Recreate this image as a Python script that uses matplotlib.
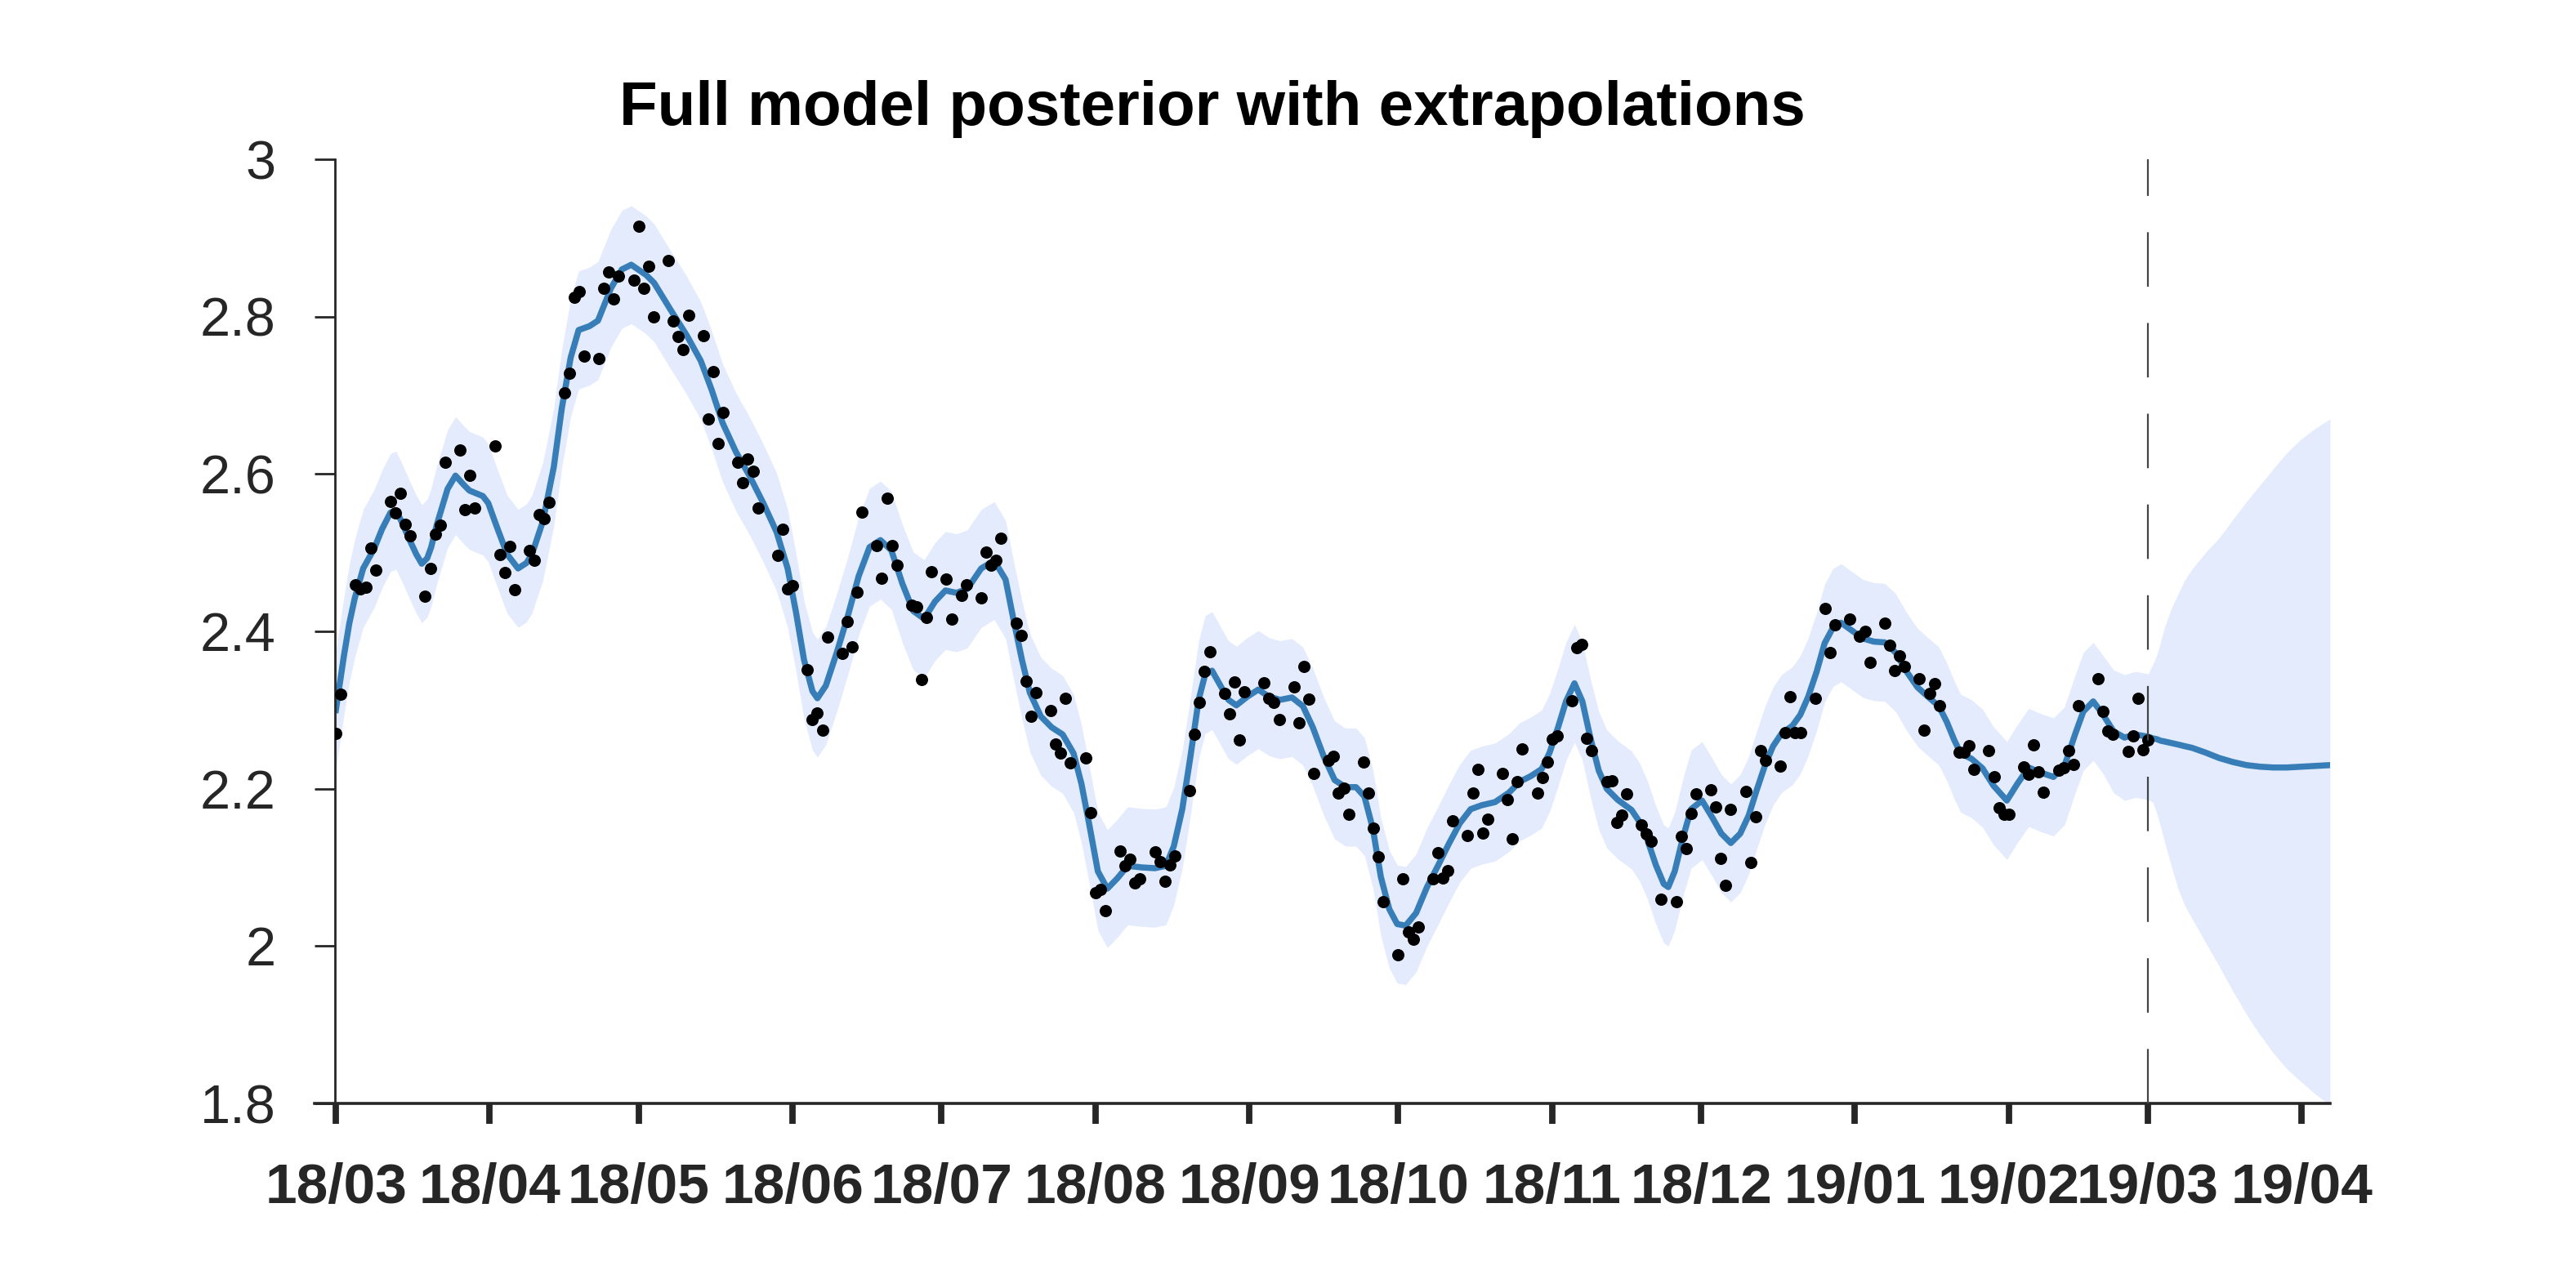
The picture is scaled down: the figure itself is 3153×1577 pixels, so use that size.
# Full model posterior with extrapolations - recreated chart
import numpy as np
import pandas as pd
import matplotlib
matplotlib.use('Agg')
import matplotlib.pyplot as plt
import matplotlib.dates as mdates
from matplotlib.ticker import FuncFormatter

plt.rcParams['font.family'] = ['Liberation Sans', 'DejaVu Sans']
plt.rcParams['lines.scale_dashes'] = False

# observation days: business days, market holidays skipped
start = pd.Timestamp('2018-03-01')
holidays = ['2018-03-30', '2018-05-28', '2018-07-04', '2018-09-03', '2018-11-22',
            '2018-12-25', '2019-01-01', '2019-01-21', '2019-02-18']
split_date = pd.Timestamp('2019-03-01')

# observed values, one row per month
obs_values = [
    2.270, 2.320, 2.459, 2.454, 2.456, 2.506, 2.478, 2.565, 2.551, 2.575, 2.536, 2.522, 2.445, 2.480, 2.524, 2.535, 2.615, 2.630, 2.555, 2.598, 2.557,
    2.636, 2.498, 2.475, 2.508, 2.453, 2.503, 2.490, 2.548, 2.543, 2.564, 2.703, 2.728, 2.825, 2.832, 2.750, 2.747, 2.836, 2.857, 2.823, 2.852, 2.846,
    2.915, 2.836, 2.864, 2.800, 2.871, 2.795, 2.775, 2.758, 2.802, 2.776, 2.670, 2.730, 2.639, 2.678, 2.615, 2.589, 2.619, 2.603, 2.557, 2.497, 2.530, 2.454,
    2.458, 2.351, 2.288, 2.296, 2.274, 2.393, 2.372, 2.413, 2.380, 2.450, 2.552, 2.509, 2.468, 2.569, 2.509, 2.484, 2.433, 2.431, 2.339, 2.418, 2.476,
    2.466, 2.416, 2.446, 2.459, 2.443, 2.501, 2.484, 2.490, 2.518, 2.410, 2.395, 2.337, 2.292, 2.322, 2.299, 2.257, 2.245, 2.315, 2.233, 2.239, 2.170,
    2.068, 2.072, 2.045, 2.121, 2.102, 2.110, 2.080, 2.086, 2.120, 2.107, 2.082, 2.103, 2.115, 2.198, 2.269, 2.310, 2.349, 2.374, 2.321, 2.295, 2.336, 2.262, 2.323,
    2.335, 2.315, 2.310, 2.288, 2.329, 2.284, 2.355, 2.314, 2.219, 2.236, 2.241, 2.194, 2.201, 2.167, 2.234, 2.194, 2.150, 2.114, 2.056,
    1.989, 2.085, 2.018, 2.009, 2.024, 2.085, 2.119, 2.087, 2.096, 2.159, 2.141, 2.194, 2.225, 2.144, 2.161, 2.219, 2.186, 2.136, 2.209, 2.251, 2.194, 2.214, 2.234,
    2.263, 2.267, 2.312, 2.379, 2.383, 2.264, 2.249, 2.209, 2.210, 2.157, 2.166, 2.193, 2.154, 2.143, 2.133, 2.060, 2.056, 2.139, 2.124, 2.169, 2.193,
    2.199, 2.177, 2.111, 2.077, 2.174, 2.197, 2.106, 2.164, 2.249, 2.236, 2.229, 2.271, 2.317, 2.271, 2.271, 2.315, 2.429, 2.373, 2.408, 2.416,
    2.394, 2.400, 2.361, 2.410, 2.382, 2.350, 2.369, 2.355, 2.340, 2.274, 2.321, 2.334, 2.306, 2.246, 2.246, 2.255, 2.225, 2.249, 2.215, 2.176, 2.167,
    2.167, 2.228, 2.218, 2.256, 2.221, 2.196, 2.224, 2.227, 2.248, 2.231, 2.306, 2.340, 2.298, 2.273, 2.269, 2.247, 2.267, 2.315, 2.250,
    2.262,
]

# posterior mean over the observed period, days after 2018-03-01
curve_day = [
    0.0, 1.6, 2.7, 3.8, 5.5, 7.7, 9.3, 11.0, 12.1, 13.2, 14.8, 16.2, 17.3, 18.4, 19.2, 20.3, 21.4, 22.5, 24.1, 25.8,
    26.9, 29.6, 30.7, 32.3, 34.5, 36.7, 38.4, 39.5, 41.7, 43.9, 45.5, 47.3, 48.9, 51.1, 52.8, 55.4, 57.6, 59.5, 62.5, 64.1,
    67.4, 70.7, 73.5, 75.7, 77.9, 80.6, 83.3, 86.1, 88.8, 91.0, 92.7, 94.3, 96.0, 97.0, 98.7, 100.9, 103.1, 105.3, 107.5, 109.7,
    111.9, 114.1, 116.3, 118.5, 120.7, 122.8, 125.0, 127.2, 130.0, 132.6, 134.9, 136.5, 138.2, 139.8, 142.0, 144.2, 146.4, 148.6, 150.2, 151.9,
    153.5, 155.4, 157.4, 159.5, 162.3, 165.0, 167.2, 168.8, 170.5, 172.1, 173.8, 175.1, 176.5, 178.2, 179.8, 181.4, 183.6, 185.8, 188.0, 190.2,
    192.6, 194.8, 196.8, 199.0, 201.2, 203.4, 205.5, 207.2, 208.9, 210.5, 212.2, 213.8, 215.5, 217.6, 219.8, 222.0, 224.2, 226.4, 228.6, 230.8,
    233.5, 236.3, 238.5, 240.7, 242.9, 244.5, 246.2, 247.8, 249.5, 251.1, 252.7, 254.4, 256.0, 258.2, 261.0, 262.6, 264.2, 265.9, 267.5, 268.4,
    269.7, 271.4, 273.0, 275.2, 277.4, 279.1, 281.0, 282.9, 284.6, 286.2, 287.9, 289.5, 291.2, 293.4, 295.0, 296.6, 298.3, 299.9, 301.6, 303.2,
    305.4, 307.6, 309.8, 312.0, 314.2, 316.4, 318.6, 320.7, 322.9, 324.5, 326.0, 327.3, 329.5, 331.7, 333.9, 336.6, 338.8, 341.0, 343.2, 346.0,
    348.2, 350.4, 352.0, 354.0, 355.9, 358.1, 360.3, 362.5, 365.1,
]
curve_mean = [
    2.300, 2.368, 2.410, 2.442, 2.480, 2.505, 2.530, 2.551, 2.554, 2.540, 2.517, 2.498, 2.486, 2.493, 2.507, 2.535, 2.558, 2.581, 2.598, 2.586,
    2.579, 2.572, 2.563, 2.535, 2.498, 2.480, 2.487, 2.498, 2.540, 2.609, 2.683, 2.748, 2.783, 2.788, 2.795, 2.836, 2.860, 2.866, 2.853, 2.843,
    2.809, 2.776, 2.744, 2.707, 2.665, 2.628, 2.598, 2.563, 2.526, 2.480, 2.424, 2.364, 2.324, 2.315, 2.331, 2.373, 2.419, 2.470, 2.507, 2.516,
    2.503, 2.461, 2.426, 2.416, 2.438, 2.452, 2.449, 2.454, 2.480, 2.490, 2.466, 2.415, 2.364, 2.322, 2.292, 2.278, 2.269, 2.245, 2.206, 2.150,
    2.095, 2.073, 2.086, 2.102, 2.100, 2.099, 2.102, 2.127, 2.174, 2.239, 2.313, 2.345, 2.350, 2.331, 2.313, 2.306, 2.317, 2.326, 2.317, 2.313,
    2.316, 2.305, 2.278, 2.241, 2.211, 2.202, 2.202, 2.190, 2.149, 2.088, 2.047, 2.028, 2.026, 2.042, 2.075, 2.102, 2.130, 2.156, 2.174, 2.179,
    2.183, 2.195, 2.209, 2.216, 2.225, 2.246, 2.278, 2.311, 2.334, 2.311, 2.265, 2.223, 2.200, 2.186, 2.173, 2.158, 2.135, 2.103, 2.079, 2.075,
    2.095, 2.139, 2.174, 2.185, 2.162, 2.143, 2.131, 2.143, 2.166, 2.198, 2.230, 2.254, 2.270, 2.280, 2.294, 2.317, 2.349, 2.385, 2.405, 2.411,
    2.401, 2.391, 2.387, 2.386, 2.373, 2.349, 2.329, 2.317, 2.305, 2.285, 2.262, 2.245, 2.238, 2.226, 2.204, 2.185, 2.207, 2.227, 2.221, 2.215,
    2.229, 2.270, 2.298, 2.311, 2.295, 2.273, 2.265, 2.269, 2.266,
]
# half width of the credible band around the mean (observed period)
curve_half = [
    0.075, 0.075, 0.075, 0.075, 0.075, 0.075, 0.075, 0.075, 0.075, 0.075, 0.075, 0.075, 0.075, 0.075, 0.075, 0.075, 0.075, 0.075, 0.075, 0.075,
    0.075, 0.075, 0.075, 0.075, 0.075, 0.075, 0.075, 0.075, 0.075, 0.075, 0.075, 0.075, 0.075, 0.075, 0.075, 0.075, 0.075, 0.075, 0.075, 0.075,
    0.075, 0.075, 0.075, 0.075, 0.075, 0.075, 0.075, 0.075, 0.075, 0.075, 0.075, 0.075, 0.075, 0.075, 0.075, 0.075, 0.075, 0.075, 0.075, 0.075,
    0.075, 0.075, 0.075, 0.075, 0.075, 0.075, 0.075, 0.075, 0.075, 0.075, 0.075, 0.075, 0.075, 0.075, 0.075, 0.075, 0.075, 0.075, 0.075, 0.075,
    0.075, 0.075, 0.075, 0.075, 0.075, 0.075, 0.075, 0.075, 0.075, 0.075, 0.075, 0.075, 0.075, 0.075, 0.075, 0.075, 0.075, 0.075, 0.075, 0.075,
    0.075, 0.075, 0.075, 0.075, 0.075, 0.075, 0.075, 0.075, 0.075, 0.075, 0.075, 0.075, 0.075, 0.075, 0.075, 0.075, 0.075, 0.075, 0.075, 0.075,
    0.075, 0.075, 0.075, 0.075, 0.075, 0.075, 0.075, 0.075, 0.075, 0.075, 0.075, 0.075, 0.075, 0.075, 0.075, 0.075, 0.075, 0.075, 0.075, 0.075,
    0.075, 0.075, 0.075, 0.075, 0.075, 0.075, 0.075, 0.075, 0.075, 0.075, 0.075, 0.075, 0.075, 0.075, 0.075, 0.075, 0.075, 0.075, 0.075, 0.075,
    0.075, 0.075, 0.075, 0.075, 0.075, 0.075, 0.075, 0.075, 0.075, 0.075, 0.075, 0.075, 0.075, 0.075, 0.075, 0.075, 0.075, 0.075, 0.075, 0.075,
    0.075, 0.075, 0.075, 0.075, 0.075, 0.078, 0.080, 0.080, 0.080,
]

# extrapolation after the last observation
ext_day = [366.0, 366.8, 367.6, 368.4, 369.8, 371.2, 372.5, 373.9, 376.6, 379.4, 382.1, 384.9, 387.6, 390.3, 393.0, 395.8, 398.7, 401.7]
ext_mean = [2.264, 2.263, 2.261, 2.260, 2.258, 2.256, 2.254, 2.252, 2.246, 2.239, 2.234, 2.230, 2.228, 2.227, 2.227, 2.228, 2.229, 2.230]
ext_hi = [2.358, 2.370, 2.387, 2.406, 2.430, 2.449, 2.466, 2.479, 2.500, 2.519, 2.542, 2.565, 2.586, 2.607, 2.627, 2.644, 2.658, 2.670]
ext_lo = [2.183, 2.169, 2.151, 2.132, 2.100, 2.071, 2.051, 2.035, 2.005, 1.974, 1.943, 1.913, 1.887, 1.864, 1.844, 1.828, 1.812, 1.798]

y_ticks = [1.8, 2.0, 2.2, 2.4, 2.6, 2.8, 3.0]

# dates
obs_dates = pd.bdate_range('2018-03-01', '2019-03-01', freq='C', holidays=holidays)
obs = np.array(obs_values)
mean_obs = np.array(curve_mean)
half_obs = np.array(curve_half)
all_days = list(curve_day) + ext_day
all_dates = start + pd.to_timedelta(all_days, unit='D')
all_mean = np.concatenate([mean_obs, ext_mean])
all_lo = np.concatenate([mean_obs - half_obs, ext_lo])
all_hi = np.concatenate([mean_obs + half_obs, ext_hi])

fig = plt.figure(figsize=(15.765, 7.885), dpi=200)
ax = fig.add_axes([0.130, 0.1433, 0.7745, 0.7330])

# band, mean and data
ax.fill_between(all_dates, all_lo, all_hi, color='#e3ebfd', lw=0, zorder=1)
ax.plot(all_dates, all_mean, color='#377eb8', lw=2.7, zorder=2, solid_joinstyle='round')
ax.plot(obs_dates, obs, 'o', color='k', ms=5.4, mew=0, zorder=3)
ax.axvline(split_date, color='#444444', lw=0.8, dashes=(24, 16), zorder=4)

x_left = start - pd.Timedelta(days=0.2)
x_right = start + pd.Timedelta(days=401.7)
ax.set_xlim(x_left, x_right)
ax.set_ylim(1.8, 3.0)
ax.set_yticks(y_ticks)
ax.yaxis.set_major_formatter(FuncFormatter(lambda v, p: '%g' % v))
ax.xaxis.set_major_locator(mdates.MonthLocator())
ax.xaxis.set_major_formatter(mdates.DateFormatter('%y/%m'))

# axes style
for s in ['top', 'right']:
    ax.spines[s].set_visible(False)
ax.spines['left'].set_linewidth(1.0)
ax.spines['bottom'].set_linewidth(1.3)
ax.spines['left'].set_color('#262626')
ax.spines['bottom'].set_color('#262626')
# x axis line sticks out a little to the left of the y axis
ax.spines['bottom'].set_bounds(mdates.date2num(start - pd.Timedelta(days=4.3)), mdates.date2num(x_right))
ax.tick_params(axis='x', length=9, width=2.8, pad=17, labelsize=25, colors='#262626')
ax.tick_params(axis='y', length=9, width=1.0, pad=17, labelsize=24, colors='#262626')
plt.setp(ax.get_xticklabels(), fontweight='bold')

fig.text(0.4707, 0.903, 'Full model posterior with extrapolations', ha='center', va='baseline',
         fontsize=27.5, fontweight='bold')

fig.savefig('out.png', dpi=200)
